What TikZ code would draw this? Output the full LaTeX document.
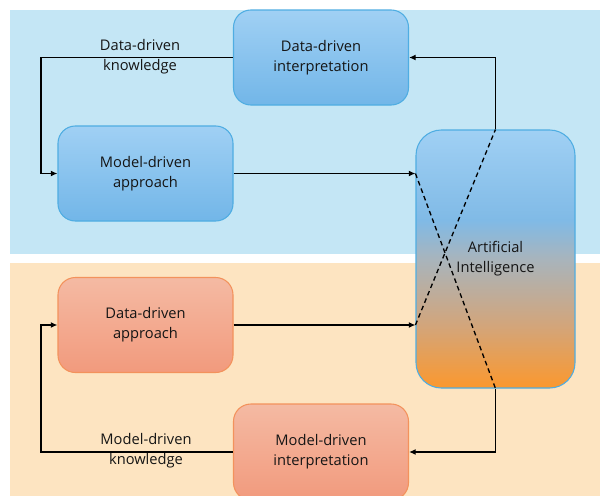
\documentclass[tikz,border=0pt]{standalone}
\usepackage{fontspec}
\setmainfont{Open Sans}
\usetikzlibrary{arrows.meta,calc}
\definecolor{bgblue}{HTML}{C4E6F5}
\definecolor{bgorange}{HTML}{FDE4C1}
\definecolor{bluetop}{HTML}{A0D0F4}
\definecolor{bluebot}{HTML}{72B6E8}
\definecolor{blueedge}{HTML}{4FADE2}
\definecolor{orgtop}{HTML}{F4BAA3}
\definecolor{orgbot}{HTML}{F29A7D}
\definecolor{orgedge}{HTML}{F3925C}
\definecolor{aiblue}{HTML}{80BAE6}
\definecolor{aimid}{HTML}{A8B4BC}
\definecolor{aiq}{HTML}{D3A57A}
\definecolor{aibot}{HTML}{FB982E}
\definecolor{txt}{HTML}{151515}
\pgfdeclareverticalshading{aishade}{100bp}{color(0bp)=(aibot); color(25bp)=(aibot); color(37bp)=(aiq); color(50bp)=(aimid); color(57.5bp)=(aiblue); color(75bp)=(bluetop); color(100bp)=(bluetop)}
\begin{document}
\begin{tikzpicture}[x=0.75pt,y=-0.75pt,
  font=\fontsize{11pt}{15pt}\selectfont, text=txt,
  box/.style={rounded corners=13pt, draw, line width=0.8pt, inner sep=0pt,
    minimum width=131.25pt, minimum height=71.25pt, align=center},
  bluebox/.style={box, draw=blueedge, top color=bluetop, bottom color=bluebot},
  orgbox/.style={box, draw=orgedge, top color=orgtop, bottom color=orgbot},
  aibox/.style={rounded corners=19pt, draw=blueedge, line width=0.8pt, inner sep=0pt,
    minimum width=119.25pt, minimum height=193.5pt, align=center,
    shading=aishade},
  arr/.style={line width=1.4pt, -{Latex[length=5pt,width=4.5pt]}},
  dashline/.style={line width=1pt, dash pattern=on 3.5pt off 2.5pt},
  lbl/.style={align=center, inner sep=0pt}]
\clip (0,0) rectangle (600,496);
\fill[white] (0,0) rectangle (600,496);
\fill[bgblue] (10,10) rectangle (600,254);
\fill[bgorange] (10,263) rectangle (600,496);

\node[bluebox] (ddi) at (321,57.5) {Data-driven\\interpretation};
\node[bluebox] (mda) at (145.5,173.5) {Model-driven\\approach};
\node[orgbox] (dda) at (145.5,325) {Data-driven\\approach};
\node[orgbox, minimum height=72pt] (mdi) at (321,452) {Model-driven\\interpretation};
\node[aibox] (ai) at (495.5,259) {Artificial\\Intelligence};

\coordinate (k1) at (41,57.5);
\coordinate (k2) at (41,452);

\draw[arr] (ddi.west) -- (k1) |- (mda.west);
\draw[arr] (ai.north) |- (ddi.east);
\draw[arr] (mda.east) -- (mda.east -| ai.west);
\draw[arr] (dda.east) -- (dda.east -| ai.west);
\draw[arr] (ai.south) |- (mdi.east);
\draw[arr] (mdi.west) -- (k2) |- (dda.west);

\draw[dashline] (mda.east -| ai.west) -- (ai.south);
\draw[dashline] (dda.east -| ai.west) -- (ai.north);

\node[lbl] (lab1) at (140,57) {Data-driven\\knowledge};
\node[lbl] (lab2) at (146,451) {Model-driven\\knowledge};
\end{tikzpicture}
\end{document}
